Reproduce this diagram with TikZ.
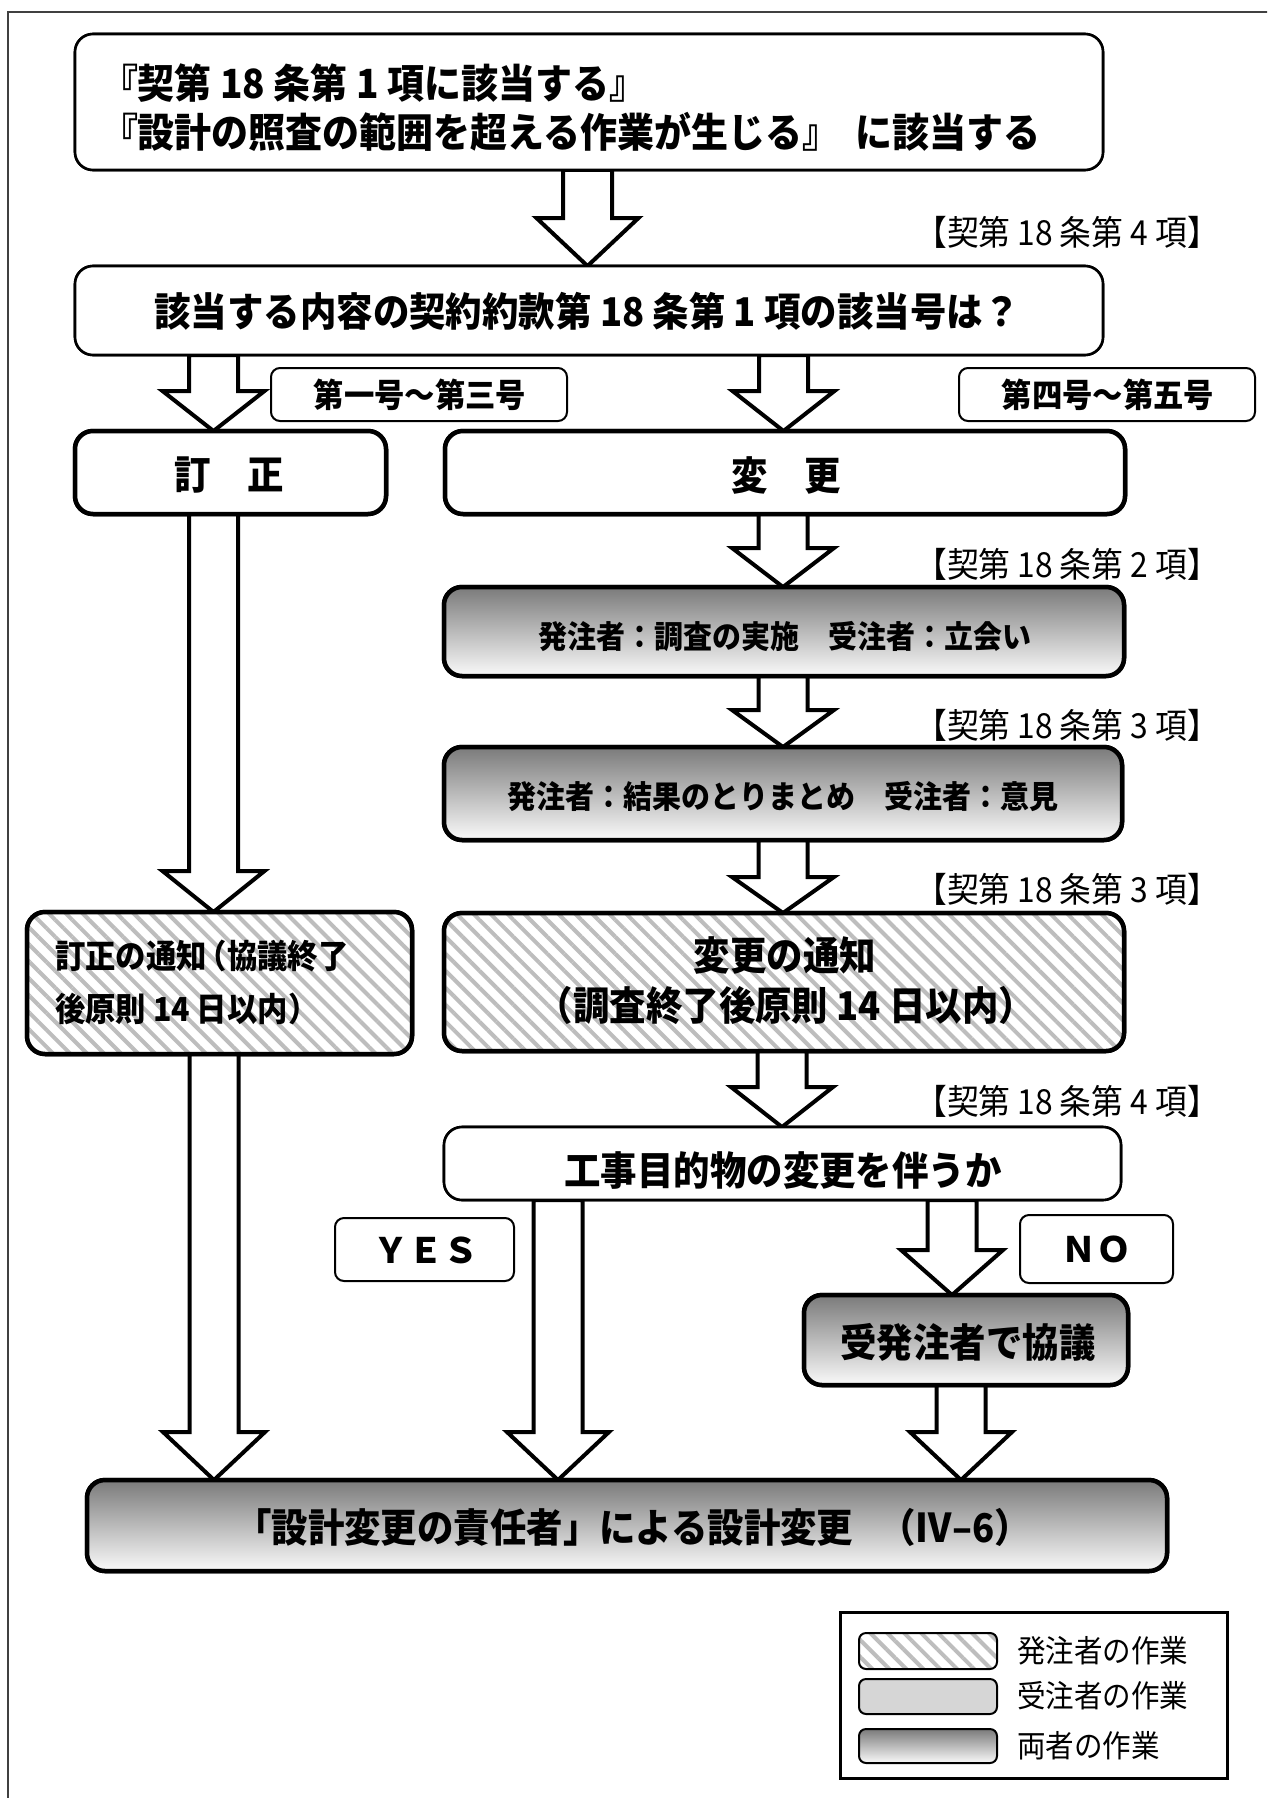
\documentclass[tikz,border=0pt]{standalone}
\usepackage{fontspec}
\setmainfont{Noto Sans CJK JP}
\newfontfamily\jpc{Noto Sans CJK JP}[FakeStretch=0.92]
\usetikzlibrary{fit,calc,patterns.meta}
\tikzset{
  every node/.style={inner sep=0pt, outer sep=0pt},
  box/.style={draw, rounded corners=18pt, inner sep=0pt},
  thinbox/.style={box, line width=2.6pt, fill=white},
  thickbox/.style={box, line width=4.5pt},
  labelbox/.style={draw, rounded corners=9pt, line width=2pt, fill=white, inner sep=0pt},
  grad/.style={top color=black!52, bottom color=black!2},
  hatch/.style={preaction={fill=white}, pattern={Lines[angle=-45,distance=12pt,line width=4pt]}, pattern color=black!26},
  barrow/.style={draw, fill=white, line width=4pt, line join=miter},
  big/.style={font=\jpc\fontsize{39.6}{44}\selectfont\bfseries},
  mid/.style={font=\jpc\fontsize{33}{36}\selectfont\bfseries},
  small/.style={font=\jpc\fontsize{31.5}{34}\selectfont\bfseries},
  ref/.style={font=\jpc\fontsize{34.5}{38}\selectfont},
  yn/.style={font=\fontsize{35}{40}\selectfont\bfseries},
  leg/.style={font=\jpc\fontsize{31}{34}\selectfont},
}
\newcommand\blockarrow[4]{%
  \draw[barrow] let \p1=(#2.south), \p2=(#3.north) in
  ({#1pt-24.5pt},\y1) -- ({#1pt-24.5pt},{\y2+#4pt}) -- ({#1pt-51pt},{\y2+#4pt}) --
  (#1pt,\y2) -- ({#1pt+51pt},{\y2+#4pt}) -- ({#1pt+24.5pt},{\y2+#4pt}) --
  ({#1pt+24.5pt},\y1) -- cycle;}
\begin{document}
\begin{tikzpicture}[x=1pt,y=-1pt]
\useasboundingbox (0,0) rectangle (1267,1798);
\begin{scope}
  \clip (0,0) rectangle (1267,1798);
  \draw[line width=2.2pt, black!75] (8,1900) -- (8,12) -- (1400,12);
\end{scope}

% boxes (geometry only)
\node[thinbox, fit={(75,34) (1103,170)}] (b1) {};
\node[thinbox, fit={(75,266) (1103,355)}] (b2) {};
\node[labelbox, fit={(271,368) (567,421)}] (lab1) {};
\node[labelbox, fit={(959,368) (1255,421)}] (lab2) {};
\node[thickbox, fill=white, fit={(75,431) (386,514)}] (teisei) {};
\node[thickbox, fill=white, fit={(445,431) (1125,514)}] (henkou) {};
\node[thickbox, grad, fit={(444,587) (1124,676)}] (b3) {};
\node[thickbox, grad, fit={(444,747) (1122,840)}] (b4) {};
\node[thickbox, hatch, fit={(444,913) (1124,1051)}] (b5) {};
\node[thickbox, hatch, fit={(27,912) (412,1054)}] (tt) {};
\node[thinbox, fit={(444,1127) (1121,1200)}] (b6) {};
\node[labelbox, fit={(335,1218) (514,1281)}] (yes) {};
\node[labelbox, fit={(1020,1215) (1173,1283)}] (no) {};
\node[thickbox, grad, fit={(804,1295) (1128,1385)}] (kyogi) {};
\node[thickbox, grad, fit={(87,1480) (1167,1571)}] (final) {};

% block arrows
\blockarrow{587.5}{b1}{b2}{48}
\blockarrow{213.5}{b2}{teisei}{40}
\blockarrow{783.5}{b2}{henkou}{40}
\blockarrow{783}{henkou}{b3}{39}
\blockarrow{783}{b3}{b4}{37}
\blockarrow{783}{b4}{b5}{36}
\blockarrow{782}{b5}{b6}{40}
\blockarrow{213.5}{teisei}{tt}{41}
\blockarrow{214}{tt}{final}{48}
\blockarrow{558}{b6}{final}{48}
\blockarrow{952}{b6}{kyogi}{45}
\blockarrow{961}{kyogi}{final}{48}

% redraw boxes on top of arrows
\node[thinbox, fit={(75,34) (1103,170)}] {};
\node[thinbox, fit={(75,266) (1103,355)}] {};
\node[thickbox, fill=white, fit={(75,431) (386,514)}] {};
\node[thickbox, fill=white, fit={(445,431) (1125,514)}] {};
\node[thickbox, grad, fit={(444,587) (1124,676)}] {};
\node[thickbox, grad, fit={(444,747) (1122,840)}] {};
\node[thickbox, hatch, fit={(444,913) (1124,1051)}] {};
\node[thickbox, hatch, fit={(27,912) (412,1054)}] {};
\node[thinbox, fit={(444,1127) (1121,1200)}] {};
\node[thickbox, grad, fit={(804,1295) (1128,1385)}] {};
\node[thickbox, grad, fit={(87,1480) (1167,1571)}] {};

% texts
\node[big, anchor=west] (t1a) at (101,83) {\fontsize{40.2}{44}\selectfont『契第 18 条第 1 項に該当する』};
\node[big, anchor=west] (t1b) at (101,132) {\fontsize{40.2}{44}\selectfont『設計の照査の範囲を超える作業が生じる』\hspace{0.4em}に該当する};
\node[ref] (r1) at (1067,232) {【契第 18 条第 4 項】};
\node[big] (t2) at (587,311) {該当する内容の契約約款第 18 条第 1 項の該当号は？};
\node[mid] (tl1) at (420,395) {第一号～第三号};
\node[mid] (tl2) at (1108,395) {第四号～第五号};
\node[big] (tts) at (229,475) {訂　正};
\node[big] (thk) at (786,475) {変　更};
\node[ref] (r2) at (1067,564) {【契第 18 条第 2 項】};
\node[small] (t3) at (785,636) {発注者：調査の実施　受注者：立会い};
\node[ref] (r3) at (1067,725) {【契第 18 条第 3 項】};
\node[small] (t4) at (783,797) {発注者：結果のとりまとめ　受注者：意見};
\node[ref] (r4) at (1067,889) {【契第 18 条第 3 項】};
\node[big] (t5a) at (785,955) {変更の通知};
\node[big] (t5b) at (786,1005) {（調査終了後原則 14 日以内）};
\node[mid, anchor=west] (tta) at (55,956) {訂正の通知\kern-0.3em（協議終了};
\node[mid, anchor=west] (ttb) at (55,1009) {後原則 14 日以内）};
\node[ref] (r5) at (1067,1101) {【契第 18 条第 4 項】};
\node[big] (t6) at (783,1170) {工事目的物の変更を伴うか};
\node[yn] (tyes) at (426,1250) {ＹＥＳ};
\node[yn] (tno) at (1096,1249) {ＮＯ};
\node[big] (tk) at (968,1342) {受発注者で協議};
\node[big] (tf) at (633,1527) {「設計変更の責任者」による設計変更\hspace{26pt}（Ⅳ–6）};

% legend
\node[draw, line width=3pt, fit={(840,1612) (1227,1778)}] (legend) {};
\node[draw, line width=2pt, rounded corners=7pt, hatch, fit={(859,1633) (997,1669)}] (s1) {};
\node[draw, line width=2pt, rounded corners=7pt, fill=black!16, fit={(859,1679) (997,1714)}] (s2) {};
\node[draw, line width=2pt, rounded corners=7pt, grad, fit={(859,1729) (997,1763)}] (s3) {};
\node[leg, anchor=west] (l1) at (1017,1651) {発注者の作業};
\node[leg, anchor=west] (l2) at (1017,1696) {受注者の作業};
\node[leg, anchor=west] (l3) at (1017,1746) {両者の作業};
\end{tikzpicture}
\end{document}
